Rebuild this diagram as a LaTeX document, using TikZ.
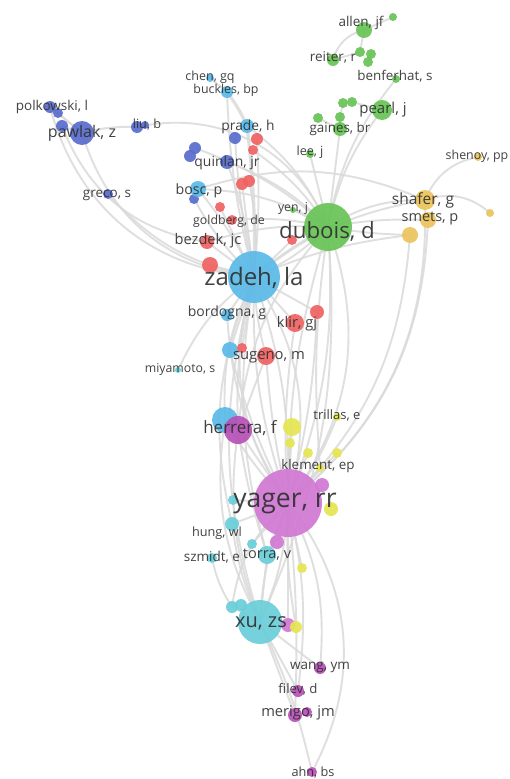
\documentclass[tikz,border=0pt]{standalone}
\usepackage{fontspec}
\setmainfont{Open Sans}
\usetikzlibrary{backgrounds}
\definecolor{cgreen}{RGB}{104,196,86}
\definecolor{cblue}{RGB}{88,108,204}
\definecolor{csky}{RGB}{90,186,232}
\definecolor{cteal}{RGB}{106,206,216}
\definecolor{cred}{RGB}{240,98,98}
\definecolor{cgold}{RGB}{236,196,92}
\definecolor{clime}{RGB}{230,230,82}
\definecolor{cmag}{RGB}{184,80,184}
\definecolor{cpink}{RGB}{208,120,210}
\definecolor{cedge}{RGB}{218,218,218}
\definecolor{ctext}{RGB}{46,46,46}
% circle of the network: name, x, y, radius, colour
\newcommand\vnode[5]{\node[vdot, minimum size={2*#4pt}, fill=#5] (#1) at (#2,#3) {};}
% label of the network: name, x, y, font size, text
\newcommand\vlab[5]{\node[vlab, font=\fontsize{#4}{#4}\selectfont] (#1) at (#2,#3) {#5};}
\begin{document}
\begin{tikzpicture}[x=1pt,y=-1pt,
  vdot/.style={circle, inner sep=0pt, draw=none, fill opacity=0.92},
  vlab/.style={inner sep=0pt, text=ctext, text opacity=0.9},
  edge/.style={draw=cedge, line width=1.9pt, opacity=0.85},
  thickedge/.style={draw=cedge, line width=3.2pt, opacity=0.85}]
\useasboundingbox (0,0) rectangle (509,779);

% ---- circles: green cluster
\vnode{allen}{364}{30}{8}{cgreen}
\vnode{gA3}{393}{17}{4}{cgreen}
\vnode{reiter}{333}{60}{6}{cgreen}
\vnode{gR2}{360}{52}{5}{cgreen}
\vnode{gR3}{371}{54}{5}{cgreen}
\vnode{gR4}{368}{62}{5}{cgreen}
\vnode{benferhat}{396}{79}{4}{cgreen}
\vnode{pearl}{382}{110}{10}{cgreen}
\vnode{gP2}{343}{103}{5}{cgreen}
\vnode{gP3}{352}{102}{5}{cgreen}
\vnode{gaines}{340}{129}{7}{cgreen}
\vnode{gG2}{318}{118}{5}{cgreen}
\vnode{gG3}{340}{117}{5}{cgreen}
\vnode{lee}{310}{154}{4}{cgreen}
\vnode{yen}{293}{210}{3}{cgreen}
\vnode{dubois}{328}{227}{24}{cgreen}
% ---- blue cluster
\vnode{polk}{50}{107}{6}{cblue}
\vnode{polkB}{58}{113}{5}{cblue}
\vnode{pawB}{62}{126}{6}{cblue}
\vnode{pawlak}{82}{133}{12}{cblue}
\vnode{liu}{137}{127}{6}{cblue}
\vnode{liuB}{145}{125}{4}{cblue}
\vnode{bl1}{235}{138}{6}{cblue}
\vnode{bl2}{195}{148}{6}{cblue}
\vnode{bl3}{190}{156}{6}{cblue}
\vnode{quinlan}{227}{162}{7}{cblue}
\vnode{greco}{108}{194}{5}{cblue}
\vnode{bl4}{194}{199}{5}{cblue}
% ---- sky / teal cluster
\vnode{chen}{210}{78}{4}{csky}
\vnode{buckles}{227}{92}{6}{csky}
\vnode{prade}{247}{126}{7}{csky}
\vnode{bosc}{198}{189}{8}{csky}
\vnode{bordogna}{227}{315}{6}{csky}
\vnode{cy1}{230}{350}{8}{csky}
\vnode{miyamoto}{178}{370}{3}{cteal}
\vnode{herC}{225}{420}{13}{csky}
\vnode{cy2}{233}{500}{5}{cteal}
\vnode{hung}{232}{524}{7}{cteal}
\vnode{tl1}{252}{544}{5}{cteal}
\vnode{torra}{267}{555}{9}{cteal}
\vnode{szmidt}{212}{558}{5}{cteal}
\vnode{tl2}{232}{607}{6}{cteal}
\vnode{tl3}{241}{605}{6}{cteal}
% ---- red cluster
\vnode{r1}{257}{139}{6}{cred}
\vnode{r2}{253}{150}{5}{cred}
\vnode{r3}{242}{184}{6}{cred}
\vnode{r4}{249}{181}{6}{cred}
\vnode{r5}{220}{207}{5}{cred}
\vnode{goldberg}{232}{220}{5}{cred}
\vnode{bezdek}{207}{242}{7}{cred}
\vnode{r6}{210}{265}{8}{cred}
\vnode{r7}{292}{240}{5}{cred}
\vnode{klir}{295}{323}{9}{cred}
\vnode{r8}{317}{312}{7}{cred}
\vnode{r9}{242}{348}{5}{cred}
\vnode{sugeno}{266}{356}{9}{cred}
% ---- gold cluster
\vnode{shenoy}{478}{157}{4}{cgold}
\vnode{shafer}{425}{200}{10}{cgold}
\vnode{smets}{428}{220}{8}{cgold}
\vnode{go3}{410}{235}{8}{cgold}
\vnode{go4}{490}{213}{4}{cgold}
% ---- lime cluster
\vnode{ye1}{292}{427}{9}{clime}
\vnode{ye2}{290}{443}{5}{clime}
\vnode{ye3}{308}{453}{5}{clime}
\vnode{ye4}{337}{453}{5}{clime}
\vnode{trillas}{337}{417}{4}{clime}
\vnode{klement}{320}{468}{4}{clime}
\vnode{ye6}{302}{568}{5}{clime}
% ---- magenta cluster
\vnode{herrera}{238}{430}{14}{cmag}
\vnode{mg1}{322}{485}{7}{cpink}
\vnode{mg2}{277}{542}{7}{cpink}
% ---- large hubs
\vnode{zadeh}{254}{277}{26}{csky}
\vnode{yager}{288}{503}{34}{cpink}
\vnode{ye5}{331}{509}{7}{clime}
\vnode{xu}{260}{622}{22}{cteal}
\vnode{mg3}{288}{625}{7}{cpink}
\vnode{ye7}{296}{627}{6}{clime}
\vnode{wang}{320}{668}{6}{cmag}
\vnode{filev}{298}{691}{6}{cmag}
\vnode{merigo}{295}{715}{7}{cmag}
\vnode{mgB}{307}{712}{5}{cmag}
\vnode{ahn}{312}{772}{5}{cmag}

% ---- links, behind the circles
\begin{pgfonlayer}{background}
\fill[white] (0,0) rectangle (509,779);
% blue
\draw[edge] (polk.center) -- (pawlak.center);
\draw[edge] (polkB.center) -- (pawlak.center);
\draw[edge] (pawB.center) -- (pawlak.center);
\draw[edge] (pawlak.center) to[bend left=8] (liu.center);
\draw[edge] (liu.center) to[bend left=40] (dubois.center);
\draw[edge] (pawlak.center) to[bend right=33] (zadeh.center);
\draw[edge] (polk.center) to[bend right=35] (zadeh.center);
\draw[edge] (pawB.center) to[bend right=30] (bezdek.center);
\draw[edge] (greco.center) to[bend right=18] (zadeh.center);
\draw[edge] (bl2.center) to[bend left=10] (dubois.center);
\draw[edge] (bl1.center) to[bend right=4] (zadeh.center);
\draw[edge] (quinlan.center) to[bend left=6] (zadeh.center);
\draw[edge] (quinlan.center) to[bend left=12] (dubois.center);
\draw[edge] (bl4.center) to[bend right=8] (zadeh.center);
% sky
\draw[edge] (chen.center) -- (buckles.center);
\draw[thickedge] (buckles.center) to[bend left=6] (prade.center);
\draw[thickedge] (prade.center) to[bend left=4] (zadeh.center);
\draw[edge] (buckles.center) to[bend right=6] (zadeh.center);
\draw[edge] (prade.center) to[bend left=14] (dubois.center);
\draw[edge] (bosc.center) to[bend left=6] (zadeh.center);
\draw[edge] (bosc.center) to[bend left=14] (dubois.center);
\draw[edge] (bosc.center) to[bend left=20] (shafer.center);
% red
\draw[edge] (r1.center) to[bend left=4] (zadeh.center);
\draw[edge] (r2.center) to[bend left=10] (dubois.center);
\draw[edge] (r3.center) -- (zadeh.center);
\draw[edge] (r4.center) to[bend left=8] (zadeh.center);
\draw[edge] (r5.center) -- (zadeh.center);
\draw[edge] (goldberg.center) to[bend left=8] (dubois.center);
\draw[edge] (bezdek.center) to[bend left=10] (dubois.center);
\draw[edge] (bezdek.center) -- (zadeh.center);
\draw[edge] (r6.center) -- (zadeh.center);
\draw[edge] (r7.center) -- (zadeh.center);
\draw[edge] (zadeh.center) -- (klir.center);
\draw[edge] (r8.center) -- (zadeh.center);
\draw[edge] (zadeh.center) to[bend right=6] (sugeno.center);
\draw[edge] (r9.center) -- (zadeh.center);
\draw[edge] (miyamoto.center) to[bend left=14] (zadeh.center);
\draw[edge] (bordogna.center) -- (zadeh.center);
\draw[edge] (cy1.center) -- (zadeh.center);
% green
\draw[edge] (gA3.center) -- (allen.center);
\draw[edge] (reiter.center) to[bend left=30] (allen.center);
\draw[edge] (gR2.center) -- (allen.center);
\draw[edge] (reiter.center) -- (gR2.center);
\draw[edge] (gR3.center) -- (gR4.center);
\draw[edge] (pearl.center) to[bend right=12] (dubois.center);
\draw[edge] (benferhat.center) to[bend right=14] (dubois.center);
\draw[edge] (gP3.center) -- (pearl.center);
\draw[edge] (gP2.center) to[bend right=6] (gaines.center);
\draw[edge] (gaines.center) -- (dubois.center);
\draw[edge] (gG2.center) -- (gaines.center);
\draw[edge] (lee.center) -- (dubois.center);
\draw[edge] (yen.center) -- (dubois.center);
\draw[edge] (zadeh.center) to[bend left=6] (dubois.center);
\draw[edge] (zadeh.center) to[bend right=10] (dubois.center);
% gold
\draw[edge] (dubois.center) to[bend left=16] (shafer.center);
\draw[edge] (dubois.center) to[bend left=6] (smets.center);
\draw[edge] (zadeh.center) to[bend left=14] (shafer.center);
\draw[edge] (zadeh.center) to[bend left=8] (go3.center);
\draw[edge] (dubois.center) to[bend right=4] (go3.center);
\draw[edge] (shafer.center) to[bend left=30] (go4.center);
\draw[edge] (shafer.center) to[bend left=28] (shenoy.center);
\draw[edge] (smets.center) to[bend left=24] (yager.center);
\draw[edge] (shafer.center) to[bend left=26] (yager.center);
\draw[edge] (go3.center) to[bend left=20] (yager.center);
% spine zadeh / dubois -> yager
\draw[edge] (zadeh.center) to[bend left=10] (yager.center);
\draw[edge] (zadeh.center) to[bend right=10] (yager.center);
\draw[edge] (zadeh.center) to[bend left=24] (yager.center);
\draw[edge] (zadeh.center) to[bend right=26] (yager.center);
\draw[edge] (dubois.center) to[bend left=12] (yager.center);
\draw[edge] (dubois.center) to[bend right=8] (yager.center);
\draw[edge] (dubois.center) to[bend left=28] (yager.center);
\draw[edge] (dubois.center) to[bend right=18] (herrera.center);
\draw[edge] (dubois.center) to[bend left=14] (xu.center);
\draw[edge] (dubois.center) to[bend right=6] (klement.center);
\draw[edge] (zadeh.center) to[bend right=16] (xu.center);
\draw[edge] (zadeh.center) to[bend right=8] (herrera.center);
\draw[edge] (zadeh.center) to[bend right=14] (herC.center);
\draw[edge] (zadeh.center) to[bend right=12] (torra.center);
\draw[edge] (zadeh.center) to[bend right=18] (hung.center);
\draw[edge] (klir.center) to[bend right=6] (yager.center);
\draw[edge] (sugeno.center) to[bend right=4] (yager.center);
\draw[edge] (sugeno.center) -- (herrera.center);
\draw[edge] (bordogna.center) to[bend right=14] (yager.center);
\draw[edge] (cy1.center) to[bend right=6] (yager.center);
\draw[edge] (r8.center) to[bend left=6] (yager.center);
% herrera, lime
\draw[edge] (herrera.center) -- (yager.center);
\draw[edge] (herC.center) to[bend right=6] (yager.center);
\draw[edge] (herrera.center) to[bend right=14] (xu.center);
\draw[edge] (herC.center) to[bend right=18] (xu.center);
\draw[edge] (herrera.center) to[bend right=4] (torra.center);
\draw[edge] (ye1.center) -- (yager.center);
\draw[edge] (ye2.center) -- (yager.center);
\draw[edge] (ye3.center) -- (yager.center);
\draw[edge] (ye4.center) -- (yager.center);
\draw[edge] (trillas.center) to[bend left=8] (yager.center);
\draw[edge] (klement.center) -- (yager.center);
\draw[edge] (ye6.center) -- (yager.center);
\draw[edge] (ye7.center) to[bend left=6] (yager.center);
% yager downwards
\draw[edge] (yager.center) to[bend right=10] (xu.center);
\draw[edge] (yager.center) to[bend left=10] (xu.center);
\draw[edge] (yager.center) -- (torra.center);
\draw[edge] (yager.center) -- (hung.center);
\draw[edge] (yager.center) -- (cy2.center);
\draw[edge] (yager.center) -- (tl1.center);
\draw[edge] (yager.center) -- (mg2.center);
\draw[edge] (yager.center) -- (mg3.center);
\draw[edge] (yager.center) to[bend left=16] (wang.center);
\draw[edge] (yager.center) to[bend left=10] (filev.center);
\draw[edge] (yager.center) to[bend left=4] (merigo.center);
\draw[edge] (yager.center) to[bend left=33] (ahn.center);
\draw[edge] (yager.center) to[bend right=20] (tl2.center);
\draw[edge] (xu.center) to[bend left=6] (ahn.center);
\draw[edge] (xu.center) -- (merigo.center);
\draw[edge] (xu.center) -- (filev.center);
\draw[edge] (xu.center) -- (wang.center);
\draw[edge] (hung.center) to[bend right=8] (xu.center);
\draw[edge] (szmidt.center) to[bend right=10] (tl2.center);
\draw[edge] (tl2.center) -- (xu.center);
\draw[edge] (torra.center) -- (xu.center);
\end{pgfonlayer}

% ---- labels
\vlab{t-allen}{361}{23}{13.5}{allen, jf}
\vlab{t-reiter}{333}{57}{13.5}{reiter, r}
\vlab{t-benferhat}{395}{76}{13.4}{benferhat, s}
\vlab{t-pearl}{383}{110}{15}{pearl, j}
\vlab{t-gaines}{340}{129}{13.4}{gaines, br}
\vlab{t-lee}{310}{152}{12.6}{lee, j}
\vlab{t-shenoy}{477}{156}{12.4}{shenoy, pp}
\vlab{t-shafer}{423}{200}{15.5}{shafer, g}
\vlab{t-smets}{430}{218}{14.5}{smets, p}
\vlab{t-dubois}{327}{231}{22.3}{dubois, d}
\vlab{t-yen}{293}{208}{12.3}{yen, j}
\vlab{t-chen}{210}{77}{12.5}{chen, gq}
\vlab{t-buckles}{226}{90}{12.4}{buckles, bp}
\vlab{t-polk}{52}{107}{13.5}{polkowski, l}
\vlab{t-pawlak}{82}{133}{16}{pawlak, z}
\vlab{t-liu}{147}{124}{12.7}{liu, b}
\vlab{t-prade}{248}{127}{13.8}{prade, h}
\vlab{t-quinlan}{227}{163}{13.9}{quinlan, jr}
\vlab{t-bosc}{199}{191}{14.2}{bosc, p}
\vlab{t-greco}{107}{195}{13.5}{greco, s}
\vlab{t-goldberg}{229}{221}{12.3}{goldberg, de}
\vlab{t-bezdek}{208}{241}{14.6}{bezdek, jc}
\vlab{t-zadeh}{254}{278}{24}{zadeh, la}
\vlab{t-bordogna}{227}{313}{14}{bordogna, g}
\vlab{t-klir}{297}{324}{14.6}{klir, gj}
\vlab{t-sugeno}{269}{357}{14.8}{sugeno, m}
\vlab{t-miyamoto}{180}{369}{12.3}{miyamoto, s}
\vlab{t-herrera}{240}{428}{17}{herrera, f}
\vlab{t-trillas}{337}{415}{13}{trillas, e}
\vlab{t-klement}{318}{466}{13.4}{klement, ep}
\vlab{t-yager}{285}{503}{26.5}{yager, rr}
\vlab{t-hung}{217}{533}{12.7}{hung, wl}
\vlab{t-szmidt}{212}{557}{13.5}{szmidt, e}
\vlab{t-torra}{267}{555}{14.5}{torra, v}
\vlab{t-xu}{261}{623}{20}{xu, zs}
\vlab{t-wang}{320}{667}{13.5}{wang, ym}
\vlab{t-filev}{298}{689}{13.2}{filev, d}
\vlab{t-merigo}{298}{713}{14.7}{merigo, jm}
\vlab{t-ahn}{313}{772}{12.7}{ahn, bs}
\end{tikzpicture}
\end{document}
